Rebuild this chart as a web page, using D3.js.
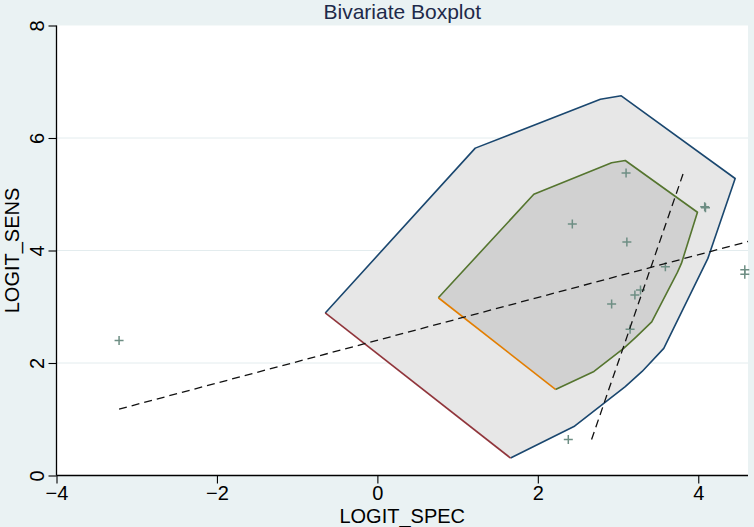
<!DOCTYPE html>
<html>
<head>
<meta charset="utf-8">
<script src="https://cdn.jsdelivr.net/npm/d3@7"></script>
<style>
  html, body { margin: 0; padding: 0; background: #eaf2f3; }
  svg { display: block; font-family: 'Liberation Sans', Arial, sans-serif; }
</style>
</head>
<body>
<div id="chart"></div>
<script>
const width = 754;
const height = 527;

// hull (outer) and bag (inner) polygons, listed from the left vertex going clockwise
const outerX = [-0.65, 1.22, 2.78, 3.04, 4.46, 4.12, 3.57, 3.30, 3.09, 2.45, 1.66];
const outerY = [2.89, 5.82, 6.69, 6.75, 5.28, 3.86, 2.26, 1.85, 1.58, 0.87, 0.31];
const innerX = [0.76, 1.95, 2.92, 3.09, 3.99, 3.79, 3.74, 3.42, 3.23, 3.07, 2.70, 2.22];
const innerY = [3.16, 5.00, 5.56, 5.60, 4.68, 3.77, 3.61, 2.73, 2.47, 2.26, 1.85, 1.53];

// observations
const pointX = [-3.22, 2.38, 2.92, 3.15, 3.21, 3.28, 3.59, 4.58, 4.58, 3.11, 2.43, 4.08, 4.09, 3.10];
const pointY = [2.40, 0.64, 3.05, 2.60, 3.21, 3.30, 3.71, 3.58, 3.66, 4.15, 4.47, 4.78, 4.76, 5.38];

// regression lines (y on x, x on y)
const fitYX = { x: [-3.22, 4.62], y: [1.18, 4.16] };
const fitXY = { x: [2.67, 3.81], y: [0.64, 5.36] };

const xTicks = [-4, -2, 0, 2, 4];
const yTicks = [0, 2, 4, 6, 8];

const navy = '#1a476f';
const maroon = '#90353b';
const green = '#55752f';
const orange = '#e37e00';
const markerColor = '#6e8e84';

const margin = { left: 56.5, right: 6, top: 25.5, bottom: 51.5 };

const x = d3.scaleLinear().domain([-4, 4.62]).range([margin.left, width - margin.right]);
const y = d3.scaleLinear().domain([0, 8]).range([height - margin.bottom, margin.top]);

const svg = d3.select('#chart').append('svg').attr('width', width).attr('height', height);

svg.append('rect').attr('width', width).attr('height', height).attr('fill', '#eaf2f3');

// plot region
svg.append('rect')
  .attr('x', x.range()[0]).attr('y', y.range()[1])
  .attr('width', x.range()[1] - x.range()[0])
  .attr('height', y.range()[0] - y.range()[1])
  .attr('fill', 'white');

// horizontal grid
svg.selectAll('.grid')
  .data(yTicks.filter((t) => t > 0 && t < 8))
  .enter()
  .append('line')
  .attr('x1', x.range()[0]).attr('x2', x.range()[1])
  .attr('y1', (d) => y(d)).attr('y2', (d) => y(d))
  .attr('stroke', '#e3ecee')
  .attr('stroke-width', 1);

const line = d3.line().x((d) => x(d[0])).y((d) => y(d[1]));
const outer = outerX.map((v, i) => [v, outerY[i]]);
const inner = innerX.map((v, i) => [v, innerY[i]]);

// fills
svg.append('path').attr('d', line(outer) + 'Z').attr('fill', '#e7e7e7');
svg.append('path').attr('d', line(inner) + 'Z').attr('fill', '#d1d1d1');

// outlines: the closing edge gets its own colour
const edge = (pts, stroke) =>
  svg.append('path')
    .attr('d', line(pts))
    .attr('fill', 'none')
    .attr('stroke', stroke)
    .attr('stroke-width', 1.6)
    .attr('stroke-linejoin', 'round');

edge(outer, navy);
edge([outer[outer.length - 1], outer[0]], maroon);
edge(inner, green);
edge([inner[inner.length - 1], inner[0]], orange);

// markers
svg.selectAll('.pt')
  .data(pointX.map((v, i) => [v, pointY[i]]))
  .enter()
  .append('path')
  .attr('class', 'pt')
  .attr('transform', (d) => `translate(${x(d[0])},${y(d[1])})`)
  .attr('d', 'M-4.5,0H4.5M0,-4.5V4.5')
  .attr('stroke', markerColor)
  .attr('stroke-width', 1.5);

// dashed fit lines
[fitYX, fitXY].forEach((f) => {
  svg.append('path')
    .attr('d', line(f.x.map((v, i) => [v, f.y[i]])))
    .attr('fill', 'none')
    .attr('stroke', '#111')
    .attr('stroke-width', 1.3)
    .attr('stroke-dasharray', '8,5');
});

// axes
const xAxis = svg.append('g')
  .attr('transform', `translate(0,${y(0)})`)
  .call(d3.axisBottom(x).tickValues(xTicks).tickSize(8).tickPadding(2).tickFormat(d3.format('d')));
const yAxis = svg.append('g')
  .attr('transform', `translate(${x(-4)},0)`)
  .call(d3.axisLeft(y).tickValues(yTicks).tickSize(8).tickPadding(3).tickFormat(d3.format('d')));

[xAxis, yAxis].forEach((g) => {
  g.select('.domain').attr('stroke', '#000').attr('stroke-width', 1.3);
  g.selectAll('.tick line').attr('stroke', '#000').attr('stroke-width', 1.1);
  g.selectAll('text').attr('fill', '#000').style('font-size', '20px')
    .style('font-family', "'Liberation Sans', Arial, sans-serif");
});
// remove the domain end caps
xAxis.select('.domain').attr('d', `M${x.range()[0]},0H${x.range()[1]}`);
yAxis.select('.domain').attr('d', `M0,${y.range()[0]}V${y.range()[1]}`);

// vertical tick labels on the y axis
yAxis.selectAll('.tick text')
  .attr('x', null).attr('dy', null)
  .attr('text-anchor', 'middle')
  .attr('transform', 'translate(-13,0) rotate(-90)');

// titles
svg.append('text')
  .attr('x', (x.range()[0] + x.range()[1]) / 2)
  .attr('y', 19)
  .attr('text-anchor', 'middle')
  .attr('fill', '#1e2a4a')
  .style('font-size', '21px')
  .text('Bivariate Boxplot');

svg.append('text')
  .attr('x', (x.range()[0] + x.range()[1]) / 2)
  .attr('y', 523)
  .attr('text-anchor', 'middle')
  .attr('fill', '#000')
  .style('font-size', '20px')
  .text('LOGIT_SPEC');

svg.append('text')
  .attr('transform', `translate(19,${(y.range()[0] + y.range()[1]) / 2}) rotate(-90)`)
  .attr('text-anchor', 'middle')
  .attr('fill', '#000')
  .style('font-size', '20px')
  .text('LOGIT_SENS');
</script>
</body>
</html>
